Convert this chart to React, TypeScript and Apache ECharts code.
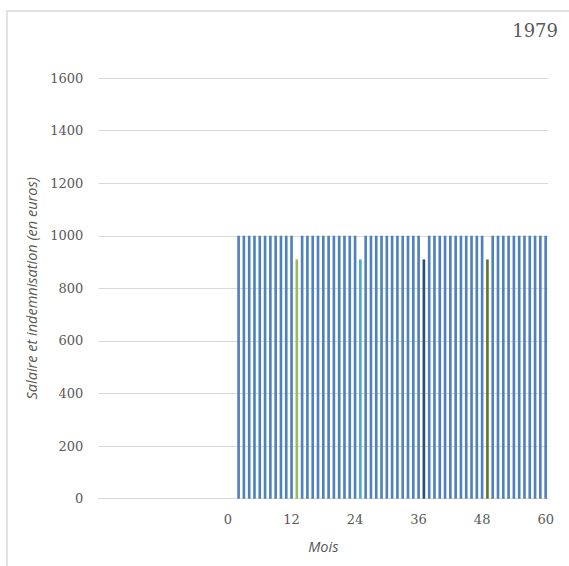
import React, { useEffect, useRef } from "react";
import * as echarts from "echarts";

const yearLabel = "1979";
const xAxisTitle = "Mois";
const yAxisTitle = "Salaire et indemnisation (en euros)";

// Month categories from -24 to 60
const months: string[] = Array.from({ length: 85 }, (_, i) => String(i - 24));

// Salary series (blue), one value per month category (-24 ... 60)
const salaire: (number | null)[] = [
  // -24 .. 1
  null, null, null, null, null, null, null, null, null, null, null, null, null,
  null, null, null, null, null, null, null, null, null, null, null, null, null,
  // 2 .. 12
  1000, 1000, 1000, 1000, 1000, 1000, 1000, 1000, 1000, 1000, 1000,
  // 13
  null,
  // 14 .. 24
  1000, 1000, 1000, 1000, 1000, 1000, 1000, 1000, 1000, 1000, 1000,
  // 25
  null,
  // 26 .. 36
  1000, 1000, 1000, 1000, 1000, 1000, 1000, 1000, 1000, 1000, 1000,
  // 37
  null,
  // 38 .. 48
  1000, 1000, 1000, 1000, 1000, 1000, 1000, 1000, 1000, 1000, 1000,
  // 49
  null,
  // 50 .. 60
  1000, 1000, 1000, 1000, 1000, 1000, 1000, 1000, 1000, 1000, 1000,
];

// Indemnisation bars (one per year)
const indemnMonths = ["13", "25", "37", "49"];
const indemnValues = [910, 910, 910, 910];
const indemnColors = ["#9BBB59", "#4BACC6", "#2C4D75", "#5F7530"];
const salaireColor = "#4F81BD";

const yTicks = { min: 0, max: 1600, interval: 200 };
const xLabelStep = 12;

export default function App() {
  const ref = useRef<HTMLDivElement>(null);

  useEffect(() => {
    if (!ref.current) return;
    const chart = echarts.init(ref.current, undefined, { renderer: "svg" });

    const series: any[] = [
      {
        type: "bar",
        name: "Salaire",
        data: salaire,
        barWidth: "50%",
        barGap: "-100%",
        itemStyle: { color: salaireColor },
      },
    ];
    indemnMonths.forEach((m, i) => {
      series.push({
        type: "bar",
        name: "Indemnisation " + (i + 1),
        data: [[m, indemnValues[i]]],
        barWidth: "50%",
        barGap: "-100%",
        itemStyle: { color: indemnColors[i] },
      });
    });

    chart.setOption({
      animation: false,
      backgroundColor: "#ffffff",
      grid: { left: 98.3, right: 20.7, top: 78, bottom: 67.3, containLabel: false },
      graphic: [
        {
          type: "polyline",
          shape: { points: [[7, 600], [7, 11], [600, 11]] },
          style: { fill: "none", stroke: "#D9D9D9", lineWidth: 1.5 },
          silent: true,
        },
        {
          type: "text",
          right: 11,
          top: 21,
          style: {
            text: yearLabel,
            font: '18px "DejaVu Serif"',
            fill: "#595959",
          },
        },
      ],
      xAxis: {
        type: "category",
        data: months,
        boundaryGap: true,
        name: xAxisTitle,
        nameLocation: "middle",
        nameGap: 40,
        nameTextStyle: {
          fontFamily: "Open Sans",
          fontStyle: "italic",
          fontSize: 14.5,
          color: "#595959",
        },
        axisLine: { show: true, lineStyle: { color: "#D9D9D9", width: 1 } },
        axisTick: { show: false },
        axisLabel: {
          interval: (index: number, value: string) => {
            const v = Number(value);
            return v >= 0 && v % xLabelStep === 0;
          },
          margin: 14,
          fontFamily: "DejaVu Serif",
          fontSize: 13,
          color: "#595959",
        },
        splitLine: { show: false },
      },
      yAxis: {
        type: "value",
        min: yTicks.min,
        max: yTicks.max,
        interval: yTicks.interval,
        name: yAxisTitle,
        nameLocation: "middle",
        nameGap: 57,
        nameTextStyle: {
          fontFamily: "Open Sans",
          fontStyle: "italic",
          fontSize: 14.5,
          color: "#595959",
        },
        axisLine: { show: false },
        axisTick: { show: false },
        axisLabel: {
          margin: 15,
          formatter: (v: number) => String(v),
          fontFamily: "DejaVu Serif",
          fontSize: 13,
          color: "#595959",
        },
        splitLine: { show: true, lineStyle: { color: "#D9D9D9", width: 1 } },
      },
      series,
    });

    return () => chart.dispose();
  }, []);

  return (
    <div
      ref={ref}
      style={{ position: "absolute", left: 0, top: 0, width: 569, height: 566 }}
    />
  );
}
